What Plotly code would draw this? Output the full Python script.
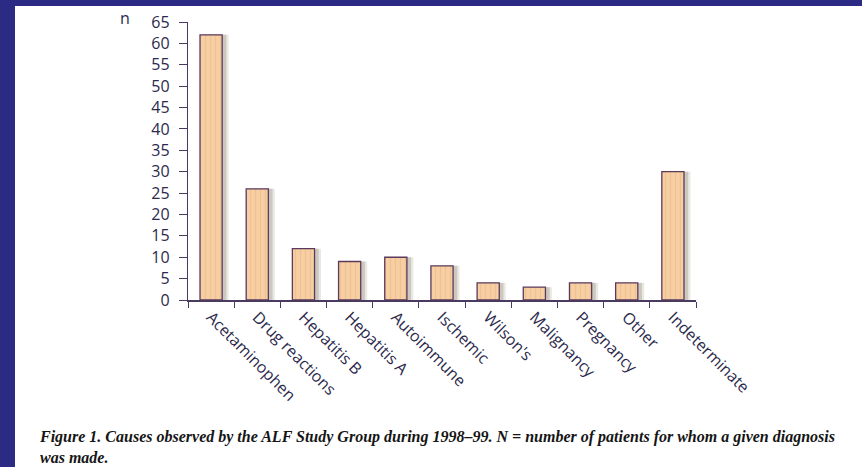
import plotly.graph_objects as go

categories = ["Acetaminophen", "Drug reactions", "Hepatitis B", "Hepatitis A", "Autoimmune",
              "Ischemic", "Wilson's", "Malignancy", "Pregnancy", "Other", "Indeterminate"]
patients = [62, 26, 12, 9, 10, 8, 4, 3, 4, 4, 30]
y_ticks = list(range(0, 70, 5))

W, H = 862, 467
L, R, T, B = 188, 166, 22, 167
PW, PH = W - L - R, H - T - B

def px_x(p):
    return (p - L) / PW

def px_y(p):
    return 1 - (p - T) / PH

NAVY = "#2B2A85"
AXIS = "#4A3A60"
TXT = "#2C2A4C"

fig = go.Figure()
# soft shadow behind bars
fig.add_trace(go.Bar(x=categories, y=patients, width=0.5, offset=-0.12,
                     marker=dict(color="rgba(160,150,130,0.22)", line=dict(width=0)),
                     hoverinfo="skip", showlegend=False))
fig.add_trace(go.Bar(x=categories, y=patients, width=0.5, offset=-0.17,
                     marker=dict(color="rgba(150,140,120,0.35)", line=dict(width=0)),
                     hoverinfo="skip", showlegend=False))
fig.add_trace(go.Bar(x=categories, y=patients, width=0.48, offset=-0.24,
                     marker=dict(color="#F6CFA2",
                                 pattern=dict(shape="|", fgcolor="#E9B584", size=5, solidity=0.25),
                                 line=dict(color="#5A3A5E", width=1.3)),
                     showlegend=False))

fig.update_layout(
    width=W, height=H, margin=dict(l=L, r=R, t=T, b=B),
    paper_bgcolor="white", plot_bgcolor="white", barmode="overlay",
    font=dict(family="Open Sans", color=TXT, size=16),
    xaxis=dict(range=[-0.5, len(categories) - 0.5], tickangle=45, tickson="boundaries",
               ticks="outside", ticklen=6, tickcolor=AXIS, tickwidth=1.3,
               showline=True, linecolor=AXIS, linewidth=1.5, showgrid=False,
               tickfont=dict(size=16, color=TXT)),
    yaxis=dict(range=[0, 65], tickvals=y_ticks, ticks="outside", ticklen=8,
               tickcolor=AXIS, tickwidth=1.3, showline=True, linecolor=AXIS, linewidth=1.3,
               showgrid=False, zeroline=False, ticklabelstandoff=6,
               tickfont=dict(size=16, color=TXT)),
    shapes=[
        dict(type="rect", xref="paper", yref="paper", x0=px_x(0), x1=px_x(15),
             y0=px_y(H), y1=px_y(0), fillcolor=NAVY, line=dict(width=0), layer="above"),
        dict(type="rect", xref="paper", yref="paper", x0=px_x(0), x1=px_x(W),
             y0=px_y(6), y1=px_y(0), fillcolor=NAVY, line=dict(width=0), layer="above"),
    ],
    annotations=[
        dict(text="n", xref="paper", yref="paper", x=px_x(125), y=px_y(18),
             xanchor="center", yanchor="middle", showarrow=False,
             font=dict(size=16, color=TXT)),
        dict(text="<b><i>Figure 1. Causes observed by the ALF Study Group during 1998–99. N = number of patients for whom a given diagnosis<br>was made.</i></b>",
             xref="paper", yref="paper", x=px_x(37), y=px_y(426), xanchor="left", yanchor="top",
             align="left", showarrow=False,
             font=dict(family="Liberation Serif", size=16, color="#151515")),
    ],
)

fig.write_html("out.html", config={"displayModeBar": False},
               post_script="document.body.style.margin='0';document.body.style.overflow='hidden';")
